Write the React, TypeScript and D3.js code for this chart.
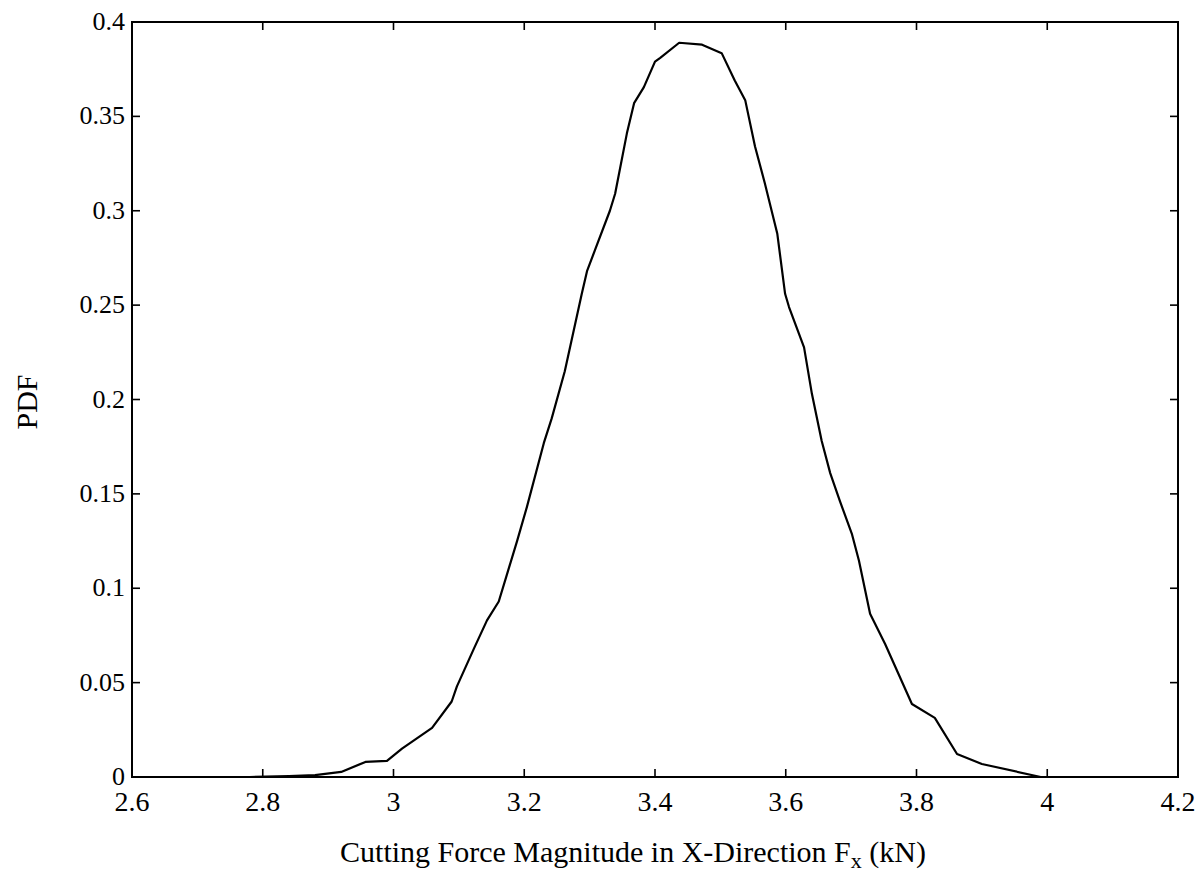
import React from "react";
import * as d3 from "d3";

const xValues = [2.78, 2.84, 2.88, 2.92, 2.957, 2.99, 3.013, 3.059, 3.089, 3.097, 3.123, 3.143, 3.161, 3.189, 3.204, 3.23, 3.242, 3.262, 3.288, 3.296, 3.308, 3.331, 3.339, 3.357, 3.368, 3.383, 3.4, 3.408, 3.437, 3.472, 3.502, 3.522, 3.538, 3.553, 3.568, 3.587, 3.599, 3.605, 3.628, 3.64, 3.655, 3.668, 3.683, 3.701, 3.712, 3.729, 3.752, 3.793, 3.828, 3.862, 3.9, 3.99, 4.06];
const pdfValues = [0, 0.0005, 0.001, 0.0027, 0.008, 0.0085, 0.015, 0.026, 0.04, 0.048, 0.068, 0.083, 0.093, 0.125, 0.143, 0.177, 0.19, 0.215, 0.256, 0.268, 0.279, 0.3, 0.309, 0.341, 0.357, 0.3655, 0.379, 0.381, 0.389, 0.388, 0.3835, 0.369, 0.3586, 0.334, 0.3146, 0.288, 0.256, 0.249, 0.2276, 0.203, 0.178, 0.161, 0.146, 0.129, 0.1146, 0.0865, 0.0705, 0.0387, 0.0313, 0.0122, 0.0069, 0, 0];

const xTicks = [2.6, 2.8, 3.0, 3.2, 3.4, 3.6, 3.8, 4.0, 4.2];
const xTickLabels = ["2.6", "2.8", "3", "3.2", "3.4", "3.6", "3.8", "4", "4.2"];
const yTicks = [0, 0.05, 0.1, 0.15, 0.2, 0.25, 0.3, 0.35, 0.4];
const yTickLabels = ["0", "0.05", "0.1", "0.15", "0.2", "0.25", "0.3", "0.35", "0.4"];

const W = 1204;
const H = 888;
const L = 132, R = 1178, T = 22, B = 777;
const FONT = "'Liberation Serif', 'Times New Roman', serif";

export default function App() {
  const x = d3.scaleLinear().domain([2.6, 4.2]).range([L, R]);
  const y = d3.scaleLinear().domain([0, 0.4]).range([B, T]);
  const pts: [number, number][] = xValues.map((v, i) => [v, pdfValues[i]]);
  const line = d3.line<[number, number]>().x((d) => x(d[0])).y((d) => y(d[1]));
  const tl = 8;
  return (
    <svg width={W} height={H} style={{ position: "absolute", left: 0, top: 0, background: "#fff" }}>
      <rect x={0} y={0} width={W} height={H} fill="#fff" />
      <path d={line(pts) || ""} fill="none" stroke="#000" strokeWidth={2.2} strokeLinejoin="round" />
      <rect x={L} y={T} width={R - L} height={B - T} fill="none" stroke="#000" strokeWidth={2} />
      {xTicks.map((t, i) => (
        <g key={"xt" + i}>
          <line x1={x(t)} x2={x(t)} y1={B} y2={B - tl} stroke="#000" strokeWidth={1.6} />
          <line x1={x(t)} x2={x(t)} y1={T} y2={T + tl} stroke="#000" strokeWidth={1.6} />
          <text x={x(t)} y={811} textAnchor="middle" fontFamily={FONT} fontSize={28} fill="#000">{xTickLabels[i]}</text>
        </g>
      ))}
      {yTicks.map((t, i) => (
        <g key={"yt" + i}>
          <line x1={L} x2={L + tl} y1={y(t)} y2={y(t)} stroke="#000" strokeWidth={1.6} />
          <line x1={R} x2={R - tl} y1={y(t)} y2={y(t)} stroke="#000" strokeWidth={1.6} />
          <text x={125} y={y(t) + 8} textAnchor="end" fontFamily={FONT} fontSize={26} fill="#000">{yTickLabels[i]}</text>
        </g>
      ))}
      <text x={633} y={862} textAnchor="middle" fontFamily={FONT} fontSize={30} fill="#000">
        Cutting Force Magnitude in X-Direction F<tspan fontSize={22} dy={6}>x</tspan><tspan dy={-6}> (kN)</tspan>
      </text>
      <text transform={`translate(37, 402) rotate(-90)`} textAnchor="middle" fontFamily={FONT} fontSize={30} fill="#000">PDF</text>
    </svg>
  );
}
